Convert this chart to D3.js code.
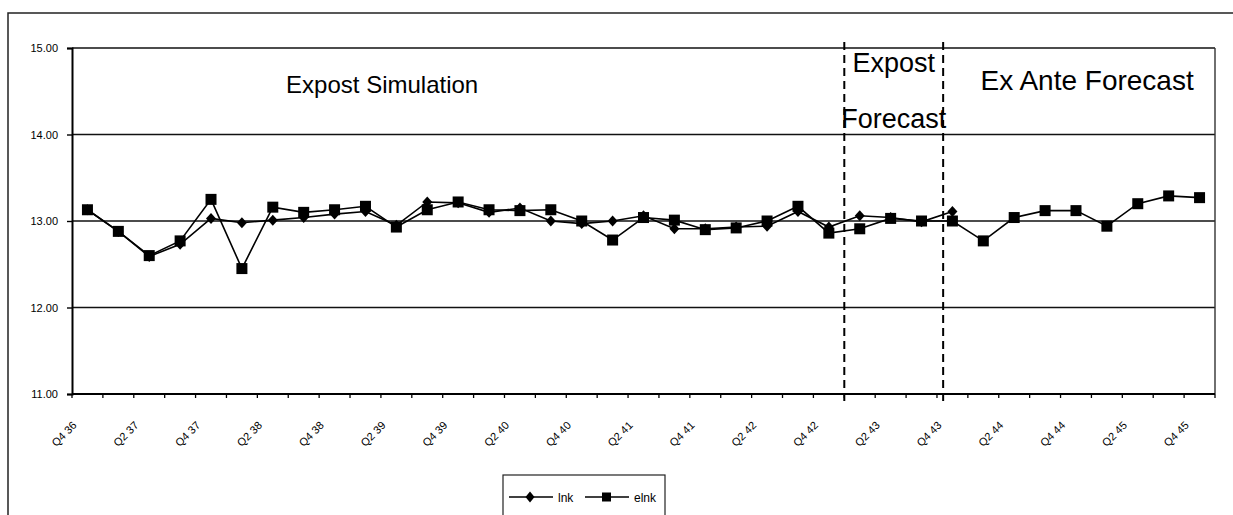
<!DOCTYPE html>
<html><head><meta charset="utf-8">
<script src="https://cdn.jsdelivr.net/npm/d3@7"></script>
<style>
html,body{margin:0;padding:0;background:#fff;}
svg{display:block;font-family:"Liberation Sans",Arial,Helvetica,sans-serif;}
</style></head>
<body>
<svg id="chart" width="1233" height="515"></svg>
<script>
const categories = ["Q4 36",
 "Q1 37","Q2 37","Q3 37","Q4 37",
 "Q1 38","Q2 38","Q3 38","Q4 38",
 "Q1 39","Q2 39","Q3 39","Q4 39",
 "Q1 40","Q2 40","Q3 40","Q4 40",
 "Q1 41","Q2 41","Q3 41","Q4 41",
 "Q1 42","Q2 42","Q3 42","Q4 42",
 "Q1 43","Q2 43","Q3 43","Q4 43",
 "Q1 44","Q2 44","Q3 44","Q4 44",
 "Q1 45","Q2 45","Q3 45","Q4 45"];
const lnk = [13.13,12.88,12.59,12.73,13.03,12.98,13.01,13.04,13.08,13.11,12.95,13.22,13.21,13.10,13.15,13.00,12.97,13.00,13.06,12.91,12.91,12.93,12.94,13.11,12.93,13.06,13.04,12.99,13.11];
const elnk = [13.13,12.88,12.60,12.77,13.25,12.45,13.16,13.10,13.13,13.17,12.93,13.13,13.22,13.13,13.12,13.13,13.00,12.78,13.04,13.01,12.90,12.92,13.00,13.17,12.86,12.91,13.03,13.00,13.00,12.77,13.04,13.12,13.12,12.94,13.20,13.29,13.27];
const xTickLabels = ["Q4 36","Q2 37","Q4 37","Q2 38","Q4 38","Q2 39","Q4 39","Q2 40","Q4 40","Q2 41","Q4 41","Q2 42","Q4 42","Q2 43","Q4 43","Q2 44","Q4 44","Q2 45","Q4 45"];
const yTicks = [11,12,13,14,15];
const dividers = [25, 28.2]; // in category-index units
const regionLabels = [
  {text:"Expost Simulation", pos:10.04, val:14.48, size:24},
  {text:"Expost", pos:26.6, val:14.72, size:27},
  {text:"Forecast", pos:26.6, val:14.075, size:27},
  {text:"Ex Ante Forecast", pos:32.86, val:14.51, size:28}
];
const seriesNames = ["lnk","elnk"];

const svg = d3.select("#chart");
const L=72, R=1215, T=48, B=394;
const x = d3.scaleBand().domain(categories).range([L,R]).padding(0);
const xi = d3.scaleLinear().domain([0,categories.length]).range([L,R]);
const y = d3.scaleLinear().domain([11,15]).range([B,T]);
const cx = c => x(c)+x.bandwidth()/2;
const diamondPath = (w,h) => `M0,${-h/2}L${w/2},0L0,${h/2}L${-w/2},0Z`;

// outer frame
svg.append("rect").attr("x",8).attr("y",13).attr("width",1300).attr("height",600)
  .attr("fill","none").attr("stroke","#222").attr("stroke-width",1.5);

// gridlines
svg.append("g").selectAll("line").data(yTicks.filter(d=>d>11)).join("line")
  .attr("x1",L).attr("x2",R).attr("y1",d=>y(d)).attr("y2",d=>y(d))
  .attr("stroke","#111").attr("stroke-width",1.4);
// right border
svg.append("line").attr("x1",R).attr("x2",R).attr("y1",T).attr("y2",B)
  .attr("stroke","#333").attr("stroke-width",1.4);

// y axis
const ya = svg.append("g").attr("transform",`translate(${L},0)`)
  .call(d3.axisLeft(y).tickValues(yTicks).tickSize(5).tickPadding(9).tickFormat(d3.format(".2f")));
ya.select(".domain").attr("stroke","#000").attr("stroke-width",2);
ya.selectAll(".tick line").attr("stroke","#000").attr("stroke-width",1.4);
ya.selectAll("text").attr("font-size",11).attr("fill","#000").attr("font-family","'Liberation Sans',Arial,sans-serif");

// x axis
svg.append("line").attr("x1",L).attr("x2",R).attr("y1",B).attr("y2",B)
  .attr("stroke","#000").attr("stroke-width",2);
svg.append("g").selectAll("line").data(d3.range(categories.length+1)).join("line")
  .attr("x1",d=>xi(d)).attr("x2",d=>xi(d)).attr("y1",B).attr("y2",B+4)
  .attr("stroke","#000").attr("stroke-width",1.3);
svg.append("g").selectAll("text").data(xTickLabels).join("text")
  .attr("transform",d=>`translate(${cx(d)-10},${B+32}) rotate(-45)`)
  .attr("text-anchor","end").attr("font-size",11).attr("fill","#000").text(d=>d);

// dividers
svg.append("g").selectAll("line").data(dividers).join("line")
  .attr("x1",d=>xi(d)).attr("x2",d=>xi(d)).attr("y1",T-6).attr("y2",B+10)
  .attr("stroke","#000").attr("stroke-width",2).attr("stroke-dasharray","8,5");

// region labels
svg.append("g").selectAll("text").data(regionLabels).join("text")
  .attr("x",d=>xi(d.pos)).attr("y",d=>y(d.val)).attr("text-anchor","middle")
  .attr("font-size",d=>d.size).attr("fill","#000").text(d=>d.text);

// series
const line = d3.line().x((d,i)=>cx(categories[i])).y(d=>y(d));
svg.append("path").datum(lnk).attr("d",line).attr("fill","none").attr("stroke","#000").attr("stroke-width",1.6);
svg.append("path").datum(elnk).attr("d",line).attr("fill","none").attr("stroke","#000").attr("stroke-width",1.6);
svg.append("g").selectAll("path").data(lnk).join("path")
  .attr("transform",(d,i)=>`translate(${cx(categories[i])},${y(d)})`).attr("d",diamondPath(10,11)).attr("fill","#000");
svg.append("g").selectAll("rect").data(elnk).join("rect")
  .attr("x",(d,i)=>cx(categories[i])-5.5).attr("y",d=>y(d)-5.5).attr("width",11).attr("height",11).attr("fill","#000");

// legend
const lg = svg.append("g").attr("transform","translate(503,475)");
lg.append("rect").attr("x",0).attr("y",0).attr("width",162).attr("height",60).attr("fill","#fff").attr("stroke","#222").attr("stroke-width",1.2);
const items = lg.selectAll("g").data(seriesNames).join("g").attr("transform",(d,i)=>`translate(${6+i*76},22)`);
items.append("line").attr("x1",0).attr("x2",44).attr("y1",0).attr("y2",0).attr("stroke","#000").attr("stroke-width",1.5);
items.filter((d,i)=>i===0).append("path").attr("transform","translate(21,0)").attr("d",diamondPath(9,11));
items.filter((d,i)=>i===1).append("rect").attr("x",17).attr("y",-4.5).attr("width",9).attr("height",9);
items.append("text").attr("x",49).attr("y",4.5).attr("font-size",12).attr("fill","#000").text(d=>d);
</script>
</body></html>
